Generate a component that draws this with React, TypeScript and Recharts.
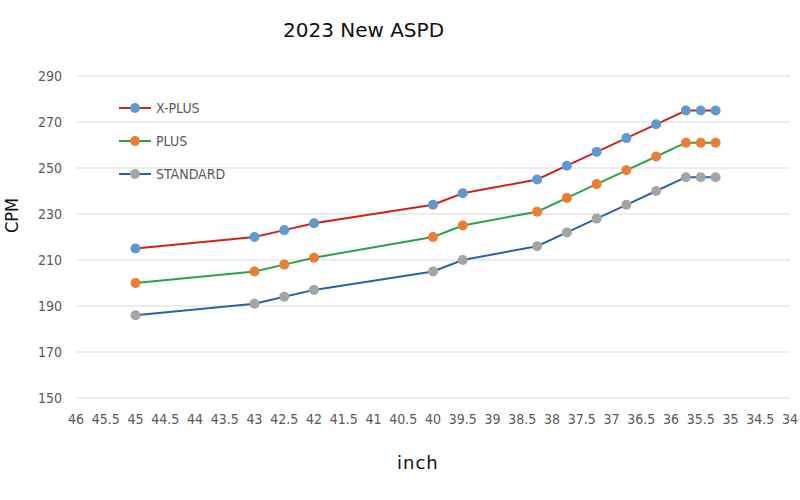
import React from "react";
import { LineChart, Line, XAxis, YAxis, CartesianGrid } from "recharts";

// screen size in inch (reversed: 46 -> 34)
const inches = [45, 43, 42.5, 42, 40, 39.5, 38.25, 37.75, 37.25, 36.75, 36.25, 35.75, 35.5, 35.25];
const xPlus = [215, 220, 223, 226, 234, 239, 245, 251, 257, 263, 269, 275, 275, 275];
const plus = [200, 205, 208, 211, 220, 225, 231, 237, 243, 249, 255, 261, 261, 261];
const standard = [186, 191, 194, 197, 205, 210, 216, 222, 228, 234, 240, 246, 246, 246];

const xTicks = [46, 45.5, 45, 44.5, 44, 43.5, 43, 42.5, 42, 41.5, 41, 40.5, 40, 39.5, 39, 38.5, 38, 37.5, 37, 36.5, 36, 35.5, 35, 34.5, 34];
const yTicks = [150, 170, 190, 210, 230, 250, 270, 290];

const data = inches.map((x, i) => ({ x, xplus: xPlus[i], plus: plus[i], standard: standard[i] }));

const series = [
    { key: "xplus", name: "X-PLUS", line: "#d0231c", dot: "#5b9bd5" },
    { key: "plus", name: "PLUS", line: "#2ca343", dot: "#ed7d31" },
    { key: "standard", name: "STANDARD", line: "#2a62a8", dot: "#a5a5a5" },
];

const narrow = "'Liberation Sans Narrow', 'DejaVu Sans Condensed', sans-serif";
const tickFont = { fontFamily: narrow, fontSize: 14, fill: "#595959" };

function LegendBox() {
    return (
        <div
            style={{
                position: "absolute",
                left: 119,
                top: 91,
                fontFamily: narrow,
                fontSize: 14,
                color: "#595959",
            }}
        >
            {series.map((s) => (
                <div key={s.key} style={{ display: "flex", alignItems: "center", height: 33 }}>
                    <svg width={32} height={12}>
                        <line x1={0} y1={6} x2={32} y2={6} stroke={s.line} strokeWidth={2} />
                        <circle cx={16} cy={6} r={5} fill={s.dot} />
                    </svg>
                    <span style={{ marginLeft: 5 }}>{s.name}</span>
                </div>
            ))}
        </div>
    );
}

export default function App() {
    return (
        <div style={{ position: "absolute", left: 0, top: 0, width: 800, height: 500, background: "#fff" }}>
            <LineChart
                width={800}
                height={500}
                data={data}
                margin={{ top: 76, right: 10, left: 0, bottom: 0 }}
                style={{ position: "absolute", left: 0, top: 0 }}
            >
                <CartesianGrid vertical={false} stroke="#d9d9d9" />
                <XAxis
                    dataKey="x"
                    type="number"
                    domain={[34, 46]}
                    ticks={xTicks}
                    reversed
                    interval={0}
                    axisLine={false}
                    tickLine={false}
                    tick={tickFont}
                    tickMargin={10}
                    height={102}
                />
                <YAxis
                    type="number"
                    domain={[150, 290]}
                    ticks={yTicks}
                    axisLine={false}
                    tickLine={false}
                    tick={tickFont}
                    tickMargin={8}
                    width={76}
                />
                {series.map((s) => (
                    <Line
                        key={s.key}
                        dataKey={s.key}
                        name={s.name}
                        stroke={s.line}
                        strokeWidth={2}
                        dot={{ r: 5, fill: s.dot, stroke: s.dot, strokeWidth: 0 }}
                        activeDot={false}
                        isAnimationActive={false}
                    />
                ))}
            </LineChart>
            <LegendBox />
            <div
                style={{
                    position: "absolute",
                    left: 0,
                    width: 727,
                    top: 18,
                    textAlign: "center",
                    fontFamily: "'DejaVu Sans', sans-serif",
                    fontSize: 20,
                    color: "#111",
                }}
            >
                2023 New ASPD
            </div>
            <div
                style={{
                    position: "absolute",
                    left: 397,
                    top: 452,
                    fontFamily: "'DejaVu Sans', sans-serif",
                    fontSize: 18,
                    color: "#111",
                    letterSpacing: 1,
                }}
            >
                inch
            </div>
            <div
                style={{
                    position: "absolute",
                    left: -6,
                    top: 205,
                    transform: "rotate(-90deg)",
                    fontFamily: narrow,
                    fontSize: 18,
                    color: "#111",
                }}
            >
                CPM
            </div>
        </div>
    );
}
